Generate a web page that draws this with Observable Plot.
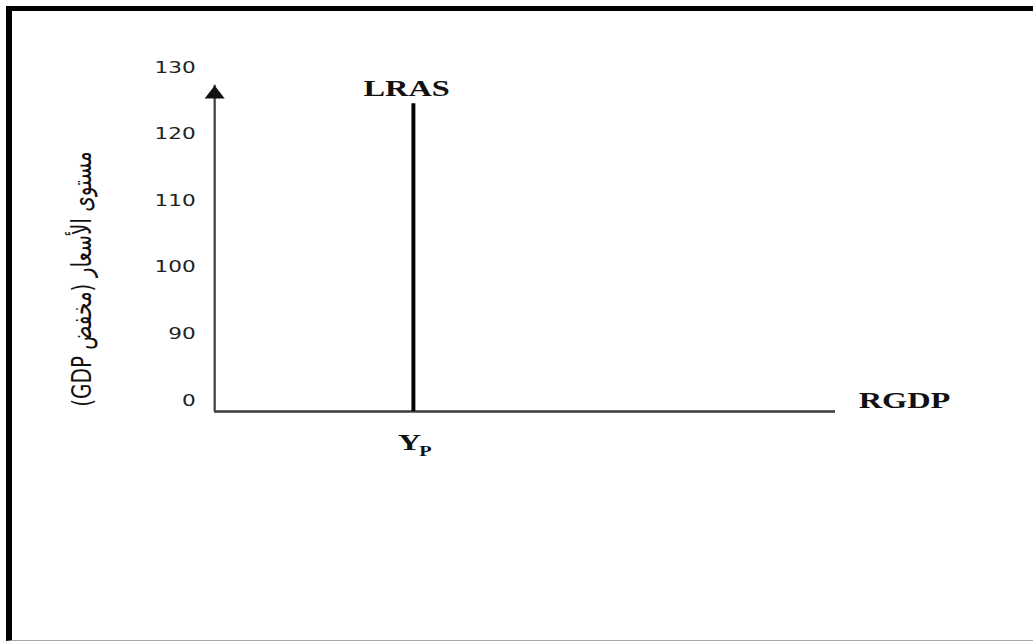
<!DOCTYPE html>
<html><head><meta charset="utf-8">
<script src="https://cdn.jsdelivr.net/npm/d3@7"></script>
<script src="https://cdn.jsdelivr.net/npm/@observablehq/plot@0.6"></script>
<style>
html,body{margin:0;padding:0;background:#fff;}
#wrap{position:relative;width:1033px;height:641px;overflow:hidden;background:#fff;}
#frame{position:absolute;left:6px;top:6px;width:1027px;height:635px;box-sizing:border-box;border-left:6px solid #000;border-top:5px solid #000;border-bottom:1px solid #aaa;pointer-events:none;}
</style></head><body>
<div id="wrap"><div id="chart"></div><div id="frame"></div></div>
<script>
// ---- data ----
const priceTickLabels = ["0", "90", "100", "110", "120", "130"];
const priceLevels = [0, 1, 2, 3, 4, 5];          // evenly spaced positions of the tick labels
const rgdpDomain = [0, 100];
const potentialOutput = [32];                       // Yp on the RGDP axis
const lrasTop = [4.62];                             // top of the LRAS line (price-level position)
const axisTop = [4.9];                              // tip of the vertical axis arrow
const yAxisTitle = ["مستوى الأسعار (مخفض GDP)"];
const lrasLabel = ["LRAS"];
const xAxisLabel = ["RGDP"];
const ypMain = ["Y"], ypSub = ["P"];

// ---- chart ----
const S = 1.35;                 // horizontal stretch of the original picture
const W = 1033, H = 641, W0 = W / S;
const serif = "Liberation Serif, Times New Roman, serif";
const rtl = s => "\u202B" + s + "\u202C";   // right-to-left embedding for the Arabic title

const chart = Plot.plot({
  width: W0, height: H,
  marginLeft: 214 / S, marginRight: W0 - 835 / S,
  marginTop: 78, marginBottom: H - 411,
  x: {domain: rgdpDomain, axis: null},
  y: {domain: [0, 5], axis: null},
  style: {background: "transparent", color: "#222", overflow: "visible"},
  marks: [
    // axes
    Plot.ruleY([0], {x1: rgdpDomain[0], x2: rgdpDomain[1], stroke: "#3a3a3a", strokeWidth: 2.4}),
    Plot.ruleX([rgdpDomain[0]], {y1: 0, y2: axisTop[0], stroke: "#3a3a3a", strokeWidth: 1.6}),
    Plot.dot(axisTop, {x: () => rgdpDomain[0], y: d => d, symbol: "triangle", r: 5.5, fill: "#111", stroke: "none", dy: 9}),
    Plot.axisY(priceLevels, {
      tickFormat: i => priceTickLabels[i], tickSize: 0, tickPadding: 14, dy: -11,
      fontSize: 16, fontFamily: "DejaVu Sans, sans-serif", fill: "#222", label: null
    }),
    Plot.text(yAxisTitle, {
      frameAnchor: "left", textAnchor: "middle", text: d => rtl(d), rotate: -90, dx: -98, dy: 34,
      fontSize: 20, fontFamily: "DejaVu Sans, sans-serif", fill: "#111", ariaLabel: "ytitle"
    }),
    // LRAS
    Plot.ruleX(potentialOutput, {y1: 0, y2: lrasTop[0], stroke: "#000", strokeWidth: 2.9}),
    Plot.text(lrasLabel, {x: potentialOutput[0], y: lrasTop[0], text: d => d, dx: -5, dy: -15,
      fontSize: 24, fontWeight: "bold", fontFamily: serif, fill: "#111"}),
    // labels on the horizontal axis
    Plot.text(xAxisLabel, {x: rgdpDomain[1], y: 0, text: d => d, textAnchor: "start", dx: 17, dy: -11,
      fontSize: 24, fontWeight: "bold", fontFamily: serif, fill: "#111"}),
    Plot.text(ypMain, {x: potentialOutput[0], y: 0, text: d => d, dx: -3, dy: 31,
      fontSize: 24, fontWeight: "bold", fontFamily: serif, fill: "#111"}),
    Plot.text(ypSub, {x: potentialOutput[0], y: 0, text: d => d, dx: 9, dy: 40,
      fontSize: 15, fontWeight: "bold", fontFamily: serif, fill: "#111"})
  ]
});
d3.select(chart).selectAll('g[aria-label="ytitle"] text')
  .attr("direction", "rtl").style("direction", "rtl");
chart.setAttribute("width", W);
chart.setAttribute("height", H);
chart.setAttribute("preserveAspectRatio", "none");
chart.style.width = W + "px";
chart.style.height = H + "px";
chart.style.maxWidth = "none";
chart.style.display = "block";
document.getElementById("chart").appendChild(chart);
</script>
</body></html>
